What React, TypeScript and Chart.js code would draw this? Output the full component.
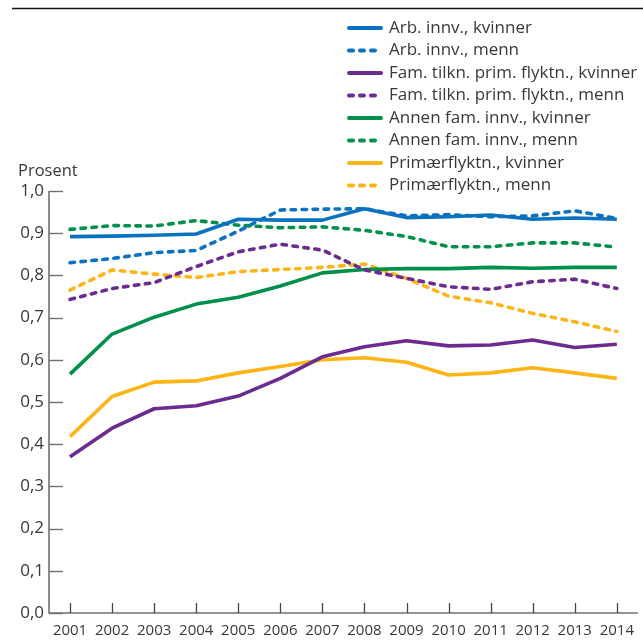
import { useEffect, useRef } from "react";
import { Chart, registerables } from "chart.js";

Chart.register(...registerables);

const years = ["2001", "2002", "2003", "2004", "2005", "2006", "2007", "2008", "2009", "2010", "2011", "2012", "2013", "2014"];

const arbKvinner = [0.892, 0.893, 0.895, 0.898, 0.933, 0.931, 0.931, 0.958, 0.937, 0.939, 0.943, 0.933, 0.936, 0.933];
const arbMenn = [0.83, 0.84, 0.854, 0.859, 0.905, 0.955, 0.957, 0.958, 0.941, 0.944, 0.939, 0.941, 0.953, 0.935];
const famKvinner = [0.37, 0.438, 0.484, 0.491, 0.514, 0.556, 0.607, 0.631, 0.645, 0.633, 0.635, 0.647, 0.629, 0.637];
const famMenn = [0.743, 0.769, 0.783, 0.821, 0.856, 0.874, 0.86, 0.813, 0.793, 0.773, 0.767, 0.785, 0.791, 0.769];
const annenKvinner = [0.566, 0.661, 0.701, 0.732, 0.748, 0.775, 0.806, 0.814, 0.816, 0.816, 0.819, 0.817, 0.819, 0.819];
const annenMenn = [0.909, 0.918, 0.917, 0.93, 0.919, 0.913, 0.915, 0.907, 0.892, 0.868, 0.868, 0.877, 0.877, 0.867];
const primKvinner = [0.418, 0.513, 0.547, 0.55, 0.569, 0.584, 0.6, 0.605, 0.594, 0.564, 0.569, 0.581, 0.569, 0.556];
const primMenn = [0.765, 0.813, 0.803, 0.795, 0.809, 0.814, 0.819, 0.827, 0.793, 0.751, 0.735, 0.71, 0.69, 0.667];

const seriesLabels = [
  "Arb. innv., kvinner",
  "Arb. innv., menn",
  "Fam. tilkn. prim. flyktn., kvinner",
  "Fam. tilkn. prim. flyktn., menn",
  "Annen fam. innv., kvinner",
  "Annen fam. innv., menn",
  "Primærflyktn., kvinner",
  "Primærflyktn., menn",
];
const seriesValues = [arbKvinner, arbMenn, famKvinner, famMenn, annenKvinner, annenMenn, primKvinner, primMenn];
const seriesColors = ["#0a72bf", "#0a72bf", "#6c2b8f", "#6c2b8f", "#00904a", "#00904a", "#fcb417", "#fcb417"];
const seriesDashed = [false, true, false, true, false, true, false, true];

const yAxisTitle = "Prosent";
const FONT = '"Open Sans", "DejaVu Sans", sans-serif';
const TEXT = "#383838";
const DASH = [4.5, 6.5];

const decorPlugin = {
  id: "decor",
  afterDraw(chart: any) {
    const ctx = chart.ctx as CanvasRenderingContext2D;
    const { left, right, top, bottom } = chart.chartArea;
    const xs = chart.scales.x;
    const ys = chart.scales.y;
    ctx.save();
    // axes
    ctx.strokeStyle = "#707070";
    ctx.lineWidth = 1.6;
    ctx.setLineDash([]);
    ctx.beginPath();
    ctx.moveTo(left, top);
    ctx.lineTo(left, bottom);
    ctx.lineTo(right, bottom);
    ctx.stroke();
    // y ticks (inward)
    ctx.lineWidth = 1.4;
    ys.ticks.forEach((t: any) => {
      const py = Math.round(ys.getPixelForValue(t.value)) + 0.5;
      ctx.beginPath();
      ctx.moveTo(left, py);
      ctx.lineTo(left + 14, py);
      ctx.stroke();
    });
    // x ticks (inward)
    ctx.strokeStyle = "#444444";
    ctx.lineWidth = 1.3;
    xs.ticks.forEach((_t: any, i: number) => {
      const px = Math.round(xs.getPixelForTick(i)) + 0.5;
      ctx.beginPath();
      ctx.moveTo(px, bottom);
      ctx.lineTo(px, bottom - 10);
      ctx.stroke();
    });
    // y axis title
    ctx.fillStyle = TEXT;
    ctx.font = `16.5px ${FONT}`;
    ctx.textAlign = "left";
    ctx.textBaseline = "alphabetic";
    ctx.fillText(yAxisTitle, 18, 176);
    // top rule
    ctx.strokeStyle = "#111111";
    ctx.lineWidth = 1.5;
    ctx.beginPath();
    ctx.moveTo(12, 8.5);
    ctx.lineTo(643, 8.5);
    ctx.stroke();
    // legend
    ctx.font = `17px ${FONT}`;
    ctx.textBaseline = "middle";
    chart.data.datasets.forEach((ds: any, i: number) => {
      const cy = 28 + i * 22.5;
      ctx.strokeStyle = ds.borderColor;
      ctx.lineWidth = 4;
      ctx.lineCap = "round";
      ctx.setLineDash(ds.borderDash && ds.borderDash.length ? [4, 7] : []);
      ctx.beginPath();
      ctx.moveTo(349, cy);
      ctx.lineTo(381, cy);
      ctx.stroke();
      ctx.setLineDash([]);
      ctx.fillStyle = TEXT;
      ctx.fillText(ds.label, 389, cy);
    });
    ctx.restore();
  },
};

export default function App() {
  const canvasRef = useRef<HTMLCanvasElement | null>(null);

  useEffect(() => {
    let chart: Chart | null = null;
    let cancelled = false;
    const create = () => {
      if (cancelled || !canvasRef.current) return;
      chart = new Chart(canvasRef.current, {
        type: "line",
        data: {
          labels: years,
          datasets: seriesLabels.map((label, i) => ({
            label,
            data: seriesValues[i],
            borderColor: seriesColors[i],
            backgroundColor: seriesColors[i],
            borderWidth: 3.6,
            borderDash: seriesDashed[i] ? DASH : [],
            borderCapStyle: seriesDashed[i] ? "round" : "butt",
            borderJoinStyle: "round",
            pointRadius: 0,
            pointHoverRadius: 0,
            tension: 0,
            fill: false,
          })),
        },
        options: {
          responsive: false,
          animation: false,
          layout: { padding: { top: 191, right: 1, left: 0, bottom: 0 } },
          plugins: { legend: { display: false }, tooltip: { enabled: false }, title: { display: false } },
          scales: {
            x: {
              type: "category",
              offset: true,
              grid: { display: false, drawTicks: false },
              border: { display: false },
              ticks: { color: TEXT, font: { family: FONT, size: 15 }, padding: 9, maxRotation: 0, autoSkip: false },
              afterFit: (s: any) => {
                s.height = 30;
              },
            },
            y: {
              min: 0,
              max: 1,
              grid: { display: false, drawTicks: false },
              border: { display: false },
              ticks: {
                stepSize: 0.1,
                color: TEXT,
                font: { family: FONT, size: 17 },
                padding: 5,
                callback: (v: any) => Number(v).toFixed(1).replace(".", ","),
              },
              afterFit: (s: any) => {
                s.width = 49;
              },
            },
          },
        },
        plugins: [decorPlugin],
      } as any);
    };
    if ((document as any).fonts && (document as any).fonts.load) {
      (document as any).fonts.load(`16px "Open Sans"`).then(create, create);
    } else {
      create();
    }
    return () => {
      cancelled = true;
      if (chart) chart.destroy();
    };
  }, []);

  return (
    <div style={{ position: "fixed", left: 0, top: 0, width: 643, height: 643, background: "#fff" }}>
      <canvas ref={canvasRef} width={643} height={643} style={{ width: 643, height: 643, display: "block" }} />
    </div>
  );
}
